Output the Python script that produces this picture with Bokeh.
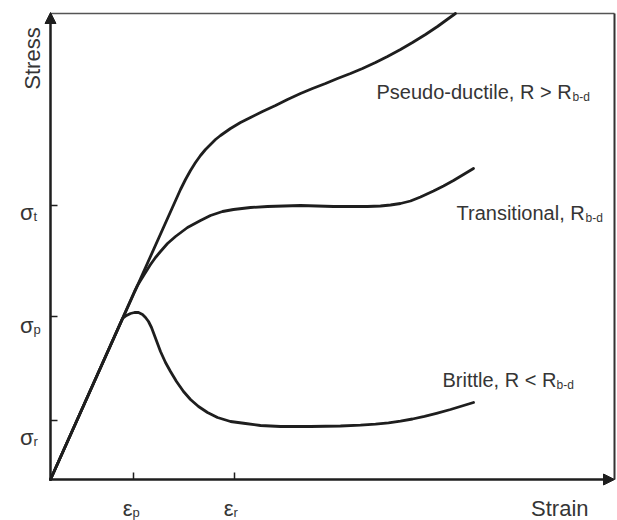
from bokeh.plotting import figure
from bokeh.models import Range1d, Arrow, NormalHead
from bokeh.core.properties import value
from bokeh.embed import file_html
from bokeh.resources import INLINE

# Schematic stress-strain curves (arbitrary units)
pseudo_strain = [0, 130, 135, 140, 145, 150, 155, 160, 165, 170, 180, 190, 200, 212, 225, 237, 250, 262, 275,
                 287, 300, 312, 325, 337, 350, 362, 375, 387, 398, 405]
pseudo_stress = [0, 290, 300, 309, 317, 324, 330, 335, 340, 344, 351, 357, 362, 368, 374, 380, 386, 391, 396,
                 401, 406, 411, 417, 423, 430, 437, 445, 453, 461, 466]

trans_strain = [0, 84, 87, 90, 95, 100, 105, 110, 117, 125, 137, 150, 160, 172, 183, 200, 217, 250, 283, 317,
                330, 340, 350, 360, 370, 383, 393, 403, 413, 423]
trans_stress = [0, 188, 194, 199, 207, 215, 222, 228, 236, 243, 252, 259, 264, 268, 270, 272, 273, 274, 273, 273,
                273.5, 274.5, 276, 278.5, 282.5, 288.5, 293.5, 299, 305, 311]

brittle_strain = [0, 72, 76, 80, 84, 88, 92, 95, 98, 101, 104, 107, 110, 115, 120, 126, 133, 140, 148, 157, 167,
                  180, 195, 210, 230, 260, 290, 310, 325, 338, 350, 362, 374, 386, 400, 423]
brittle_stress = [0, 161, 164, 166, 167, 167, 165, 162, 158, 152, 144, 136, 128, 117, 108, 98, 88, 80, 73, 67, 62,
                  58, 56, 54, 53, 53, 53.5, 54.3, 55.3, 56.6, 58.3, 60.5, 63.2, 66.2, 70, 77]

strain_ticks = [83, 184]
strain_tick_main = ["ε", "ε"]
strain_tick_sub = ["p", "r"]

stress_ticks = [274, 163, 59]
stress_tick_main = ["σ", "σ", "σ"]
stress_tick_sub = ["t", "p", "r"]

curve_labels = ["Pseudo-ductile, R > R", "Transitional, R", "Brittle, R < R"]
curve_label_sub = ["b-d", "b-d", "b-d"]

X_MAX = 564
Y_MAX = 466

FONT = value("Liberation Sans")
INK = "#1e1e1e"
TXT = "#353535"

p = figure(width=617, height=520,
           x_range=Range1d(-50, 567), y_range=Range1d(-41, 479),
           output_backend="svg", toolbar_location=None,
           x_axis_type=None, y_axis_type=None,
           min_border=0, outline_line_color=None,
           background_fill_color="white", border_fill_color="white")

# frame (top and right)
p.line([0, X_MAX], [Y_MAX, Y_MAX], line_color="#555555", line_width=1.5)
p.line([X_MAX, X_MAX], [Y_MAX, 0], line_color="#333333", line_width=2)

# axes with arrows
p.add_layout(Arrow(end=NormalHead(size=11, fill_color=INK, line_color=INK),
                   x_start=0, y_start=0, x_end=0, y_end=Y_MAX + 1,
                   line_color=INK, line_width=2.5))
p.add_layout(Arrow(end=NormalHead(size=11, fill_color=INK, line_color=INK),
                   x_start=0, y_start=0, x_end=X_MAX, y_end=0,
                   line_color=INK, line_width=2.5))

# ticks
p.segment(x0=strain_ticks, y0=[0] * len(strain_ticks), x1=strain_ticks, y1=[7] * len(strain_ticks),
          line_color=INK, line_width=1.5)
p.segment(x0=[0] * len(stress_ticks), y0=stress_ticks, x1=[7] * len(stress_ticks), y1=stress_ticks,
          line_color=INK, line_width=1.5)

# curves
for xs, ys in [(pseudo_strain, pseudo_stress), (trans_strain, trans_stress), (brittle_strain, brittle_stress)]:
    p.line(xs, ys, line_color=INK, line_width=2.8, line_join="round", line_cap="round")

# tick labels (symbol + subscript)
p.text(x=[t - 1 for t in strain_ticks], y=[-29] * len(strain_ticks), text=strain_tick_main,
       text_align="right", text_baseline="alphabetic", text_font=FONT,
       text_font_size=value("22px"), text_color=TXT)
p.text(x=[t - 1 for t in strain_ticks], y=[-33] * len(strain_ticks), text=strain_tick_sub,
       text_align="left", text_baseline="alphabetic", text_font=FONT,
       text_font_size=value("13px"), text_color=TXT)

stress_label_offset = [-7, -9, -17]
p.text(x=[-17] * len(stress_ticks), y=[s + o for s, o in zip(stress_ticks, stress_label_offset)],
       text=stress_tick_main, text_align="right", text_baseline="alphabetic", text_font=FONT,
       text_font_size=value("22px"), text_color=TXT)
p.text(x=[-17] * len(stress_ticks), y=[s + o - 4 for s, o in zip(stress_ticks, stress_label_offset)],
       text=stress_tick_sub, text_align="left", text_baseline="alphabetic", text_font=FONT,
       text_font_size=value("13px"), text_color=TXT)

# axis titles
p.text(x=[538], y=[-29], text=["Strain"], text_align="right", text_baseline="alphabetic",
       text_font=FONT, text_font_size=value("22px"), text_color=TXT)
p.text(x=[-18], y=[421], text=["Stress"], angle=1.5708, text_align="center",
       text_baseline="alphabetic", text_font=FONT, text_font_size=value("22px"), text_color=TXT)

# curve labels
lab_x = [326, 406, 392]
lab_y = [388, 267, 100]
sub_x = [522, 535, 506]
p.text(x=lab_x, y=lab_y, text=curve_labels, text_align="left", text_baseline="alphabetic",
       text_font=FONT, text_font_size=value("20px"), text_color=TXT)
p.text(x=sub_x, y=[v - 5 for v in lab_y], text=curve_label_sub, text_align="left",
       text_baseline="alphabetic", text_font=FONT, text_font_size=value("12px"), text_color=TXT)

open("out.html", "w").write(file_html(p, INLINE))
